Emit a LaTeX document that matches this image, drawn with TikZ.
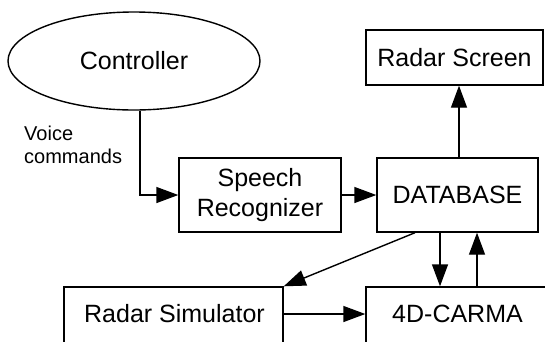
\documentclass[tikz,border=0pt]{standalone}
\usepackage{fontspec}
\setmainfont{Liberation Sans}
\usetikzlibrary{shapes.geometric,arrows.meta}

\tikzset{
  box/.style={draw, line width=1.4pt, rectangle, inner sep=0pt, font=\fontsize{25}{30}\selectfont, align=center},
  plain/.style={inner sep=0pt, font=\fontsize{25}{30}\selectfont},
  flow/.style={line width=1.4pt, -{Triangle[length=22pt,width=16pt]}}
}

\begin{document}
\begin{tikzpicture}[x=1pt, y=-1pt]
  \useasboundingbox (0,0) rectangle (545,341);
  \clip (0,0) rectangle (545,341);

  % operator
  \node[draw, line width=1.4pt, ellipse, minimum width=252pt, minimum height=98pt,
        inner sep=0pt, font=\fontsize{25}{30}\selectfont] (ctrl) at (134,61) {Controller};

  % processing boxes
  \node[box, minimum width=162pt, minimum height=74pt] (speech) at (260,195) {Speech\\Recognizer};
  \node[box, minimum width=161pt, minimum height=74pt] (db) at (457.5,195) {DATABASE};
  \node[box, minimum width=177pt, minimum height=55pt] (screen) at (454.5,57.5) {Radar Screen};

  % lower boxes run past the page edge
  \node[box, minimum width=219pt, minimum height=90pt] (sim) at (173.5,332) {};
  \node[plain] (simtext) at (174.5,314) {Radar Simulator};
  \node[box, minimum width=183pt, minimum height=90pt] (carma) at (457.5,332) {};
  \node[plain] (carmatext) at (457.5,314) {4D-CARMA};

  % connector label
  \node[inner sep=0pt, anchor=west, align=left, font=\fontsize{20}{23}\selectfont] (voice) at (24,145) {Voice\\commands};

  % connectors
  \draw[flow] ([xshift=6pt]ctrl.south) |- (speech.west);
  \draw[flow] (speech.east) -- (db.west);
  \draw[flow] ([xshift=1.5pt]db.north) -- ([xshift=1.5pt]db.north |- screen.south);
  \draw[flow] ([xshift=-42.5pt]db.south) -- (sim.north east);
  \draw[flow] ([xshift=-17.5pt]db.south) -- ([xshift=-17.5pt]db.south |- carma.north);
  \draw[flow] ([xshift=19.5pt]db.south |- carma.north) -- ([xshift=19.5pt]db.south);
  \draw[flow] (simtext.east -| sim.east) -- (simtext.east -| carma.west);
\end{tikzpicture}
\end{document}
